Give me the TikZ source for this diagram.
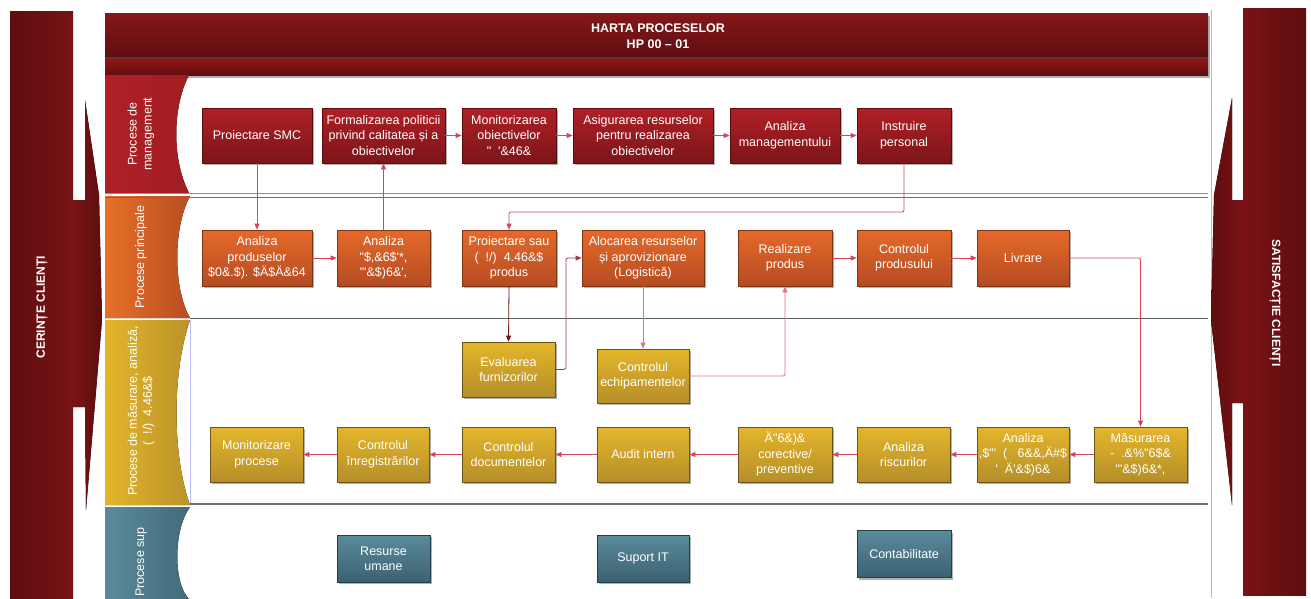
\documentclass[tikz,border=0pt]{standalone}
\usepackage{fontspec}
\newfontfamily\lsans{Liberation Sans}
\usetikzlibrary{arrows.meta,shadows,calc}
\definecolor{bann}{HTML}{7A1315}
\definecolor{bannD}{HTML}{5E0D0F}
\definecolor{hdrT}{HTML}{841719}
\definecolor{hdrB}{HTML}{600F11}
\definecolor{mgT}{HTML}{AF2026}
\definecolor{mgB}{HTML}{7C1519}
\definecolor{mgL}{HTML}{5A0B0E}
\definecolor{orT}{HTML}{E6692A}
\definecolor{orB}{HTML}{B44C22}
\definecolor{orL}{HTML}{7E3412}
\definecolor{yeT}{HTML}{E3B62B}
\definecolor{yeB}{HTML}{B68E29}
\definecolor{yeL}{HTML}{6B5319}
\definecolor{teT}{HTML}{5B8B9B}
\definecolor{teB}{HTML}{3B6171}
\definecolor{teL}{HTML}{223F4A}
\definecolor{lnk}{HTML}{D9435B}
\definecolor{lnkD}{HTML}{6E1212}
\definecolor{lnkP}{HTML}{E27385}
\definecolor{sepG}{HTML}{9C8A92}
\definecolor{sepR}{HTML}{C4455A}
\definecolor{sepN}{HTML}{56665A}
\definecolor{sepS}{HTML}{6A7272}
\begin{document}
\begin{tikzpicture}[x=1pt,y=-1pt,
  box/.style={draw, line width=0.8pt, minimum height=55pt, inner sep=1pt, align=center,
    text=white, font=\lsans\fontsize{12.5}{15.5}\selectfont,
    drop shadow={shadow xshift=2pt, shadow yshift=-2pt, opacity=0.3, fill=black}},
  mgmt/.style={box, draw=mgL, top color=mgT, bottom color=mgB},
  prin/.style={box, draw=orL, top color=orT, bottom color=orB},
  meas/.style={box, draw=yeL, top color=yeT, bottom color=yeB},
  supp/.style={box, draw=teL, top color=teT, bottom color=teB, minimum height=47pt},
  conn/.style={draw=lnk, line width=0.8pt, rounded corners=2pt, -{Triangle[length=6pt,width=5pt]}},
  lanelbl/.style={text=white, font=\lsans\fontsize{12.5}{15}\selectfont, align=center, rotate=90, inner sep=0pt},
  banlbl/.style={text=white, font=\lsans\bfseries\fontsize{12}{14}\selectfont, inner sep=0pt}
]
\useasboundingbox (0,0) rectangle (1311,598);
\fill[white] (0,0) rectangle (1311,598);
% panel border right
\draw[gray!55, line width=0.8pt] (1211.5,10) -- (1211.5,598);
% left banner
\fill[left color=bannD, right color=bann] (10,11) rectangle (73,598);
\fill[left color=bann, right color=bannD] (73,200) -- (85,200) -- (85,100) -- (99,195) -- (102,320) -- (86,510) -- (85,407) -- (73,407) -- cycle;
\node[banlbl, rotate=90] (lban) at (42,307) {CERINȚE CLIENȚI};
% right banner
\fill[left color=bann, right color=bannD] (1243,8) rectangle (1306,595);
\fill[left color=bannD, right color=bann] (1243,200) -- (1232,200) -- (1232,98) -- (1214,195) -- (1211,320) -- (1232,505) -- (1232,403) -- (1243,403) -- cycle;
\node[banlbl, rotate=-90] (rban) at (1275,303) {SATISFACȚIE CLIENȚI};
% header
\fill[gray!60] (107,16) rectangle (1210,78);
\fill[top color=hdrT, bottom color=hdrB] (105,13) rectangle (1208,57);
\fill[hdrB!70!gray] (105,57) rectangle (1208,59);
\fill[top color=hdrT!90!red, bottom color=hdrB] (105,59) rectangle (1208,75);
\node[banlbl, align=center, font=\lsans\bfseries\fontsize{12.5}{16}\selectfont] (title) at (658,36) {HARTA PROCESELOR\\HP 00 – 01};
% lane tabs
\fill[left color=mgT, right color=mgT!92!black] (105,75) -- (189,75) .. controls (172,108) and (172,160) .. (189,193) -- (105,193) -- cycle;
\fill[left color=orT!95!yellow, right color=orB!95!orT] (105,196) -- (190,196) .. controls (173,228) and (173,288) .. (190,318) -- (105,318) -- cycle;
\fill[left color=yeT, right color=yeB!90!yeT] (105,320) -- (190,320) .. controls (172,372) and (172,455) .. (190,505) -- (105,505) -- cycle;
\fill[left color=teT, right color=teB!80!teT] (105,507) -- (190,507) .. controls (173,530) and (173,585) .. (190,600) -- (105,600) -- cycle;
\node[lanelbl] (l1) at (141,134) {Procese de\\management};
\node[lanelbl] (l2) at (141,257) {Procese principale};
\node[lanelbl] (l3) at (141,411) {Procese de măsurare, analiză,\\(~~!/)~~4.46\&\$};
\node[lanelbl, anchor=west] (l4) at (141,597) {Procese sup};
% separators
\draw[sepG, line width=1.2pt] (105,193.5) -- (1208,193.5);
\draw[sepR, line width=0.6pt] (105,197) -- (1208,197);
\draw[sepN, line width=1.3pt] (190,318.5) -- (1208,318.5);
\draw[blue!25, line width=0.5pt] (190.5,320) -- (190.5,503);
\draw[sepS, line width=1.3pt] (190,504) -- (1208,504);
% management row
\node[mgmt, minimum width=110pt] (m1) at (257,135.5) {Proiectare SMC};
\node[mgmt, minimum width=123pt] (m2) at (383.5,135.5) {Formalizarea politicii\\privind calitatea și a\\obiectivelor};
\node[mgmt, minimum width=94pt] (m3) at (509,135.5) {Monitorizarea\\obiectivelor\\"~~'\&46\&};
\node[mgmt, minimum width=140pt] (m4) at (643,135.5) {Asigurarea resurselor\\pentru realizarea\\obiectivelor};
\node[mgmt, minimum width=110pt] (m5) at (785,135.5) {Analiza\\managementului};
\node[mgmt, minimum width=94pt] (m6) at (904,135.5) {Instruire\\personal};
% principal row
\node[prin, minimum width=110pt, minimum height=56pt] (p1) at (257,258) {Analiza\\produselor\\\$0\&.\$). \$Ä\$Ä\&64};
\node[prin, minimum width=93pt, minimum height=56pt] (p2) at (383.5,258) {Analiza\\"\$,\&6\$'*,\\"'\&\$)6\&',};
\node[prin, minimum width=94pt, minimum height=56pt] (p3) at (509,258) {Proiectare sau\\(~~!/)~~4.46\&\$\\produs};
\node[prin, minimum width=122pt, minimum height=56pt] (p4) at (643,258) {Alocarea resurselor\\și aprovizionare\\(Logistică)};
\node[prin, minimum width=94pt, minimum height=56pt] (p5) at (785,258) {Realizare\\produs};
\node[prin, minimum width=94pt, minimum height=56pt] (p6) at (904,258) {Controlul\\produsului};
\node[prin, minimum width=92pt, minimum height=56pt] (p7) at (1023,258) {Livrare};
% measurement rows
\node[meas, minimum width=93pt] (e1) at (508.5,369.5) {Evaluarea\\furnizorilor};
\node[meas, minimum width=92pt, minimum height=54pt] (e2) at (643,376) {Controlul\\echipamentelor};
\node[meas, minimum width=93pt] (b1) at (256.5,454.5) {Monitorizare\\procese};
\node[meas, minimum width=92pt] (b2) at (383,454.5) {Controlul\\înregistrărilor};
\node[meas, minimum width=93pt] (b3) at (508.5,454.5) {Controlul\\documentelor};
\node[meas, minimum width=92pt] (b4) at (643,454.5) {Audit intern};
\node[meas, minimum width=94pt] (b5) at (785,454.5) {Ä"6\&)\&\\corective/\\preventive};
\node[meas, minimum width=93pt] (b6) at (903.5,454.5) {Analiza\\riscurilor};
\node[meas, minimum width=92pt] (b7) at (1023,454.5) {Analiza\\,\$"'~~(~~~6\&\&,Ä\#\$\\'~~Ä'\&\$)6\&};
\node[meas, minimum width=93pt] (b8) at (1140.5,454.5) {Măsurarea\\-~~.\&\%"6\$\&\\"'\&\$)6\&*,};
% support row
\node[supp, minimum width=93pt] (s1) at (383.5,558.5) {Resurse\\umane};
\node[supp, minimum width=92pt] (s2) at (643,558.5) {Suport IT};
\node[supp, minimum width=94pt] (s3) at (904,554) {Contabilitate};
% connectors
\draw[conn] (m1.south) -- (p1.north);
\draw[conn] (p2.north) -- (m2.south);
\draw[conn] (m2.east) -- (m3.west);
\draw[conn] (m3.east) -- (m4.west);
\draw[conn] (m4.east) -- (m5.west);
\draw[conn] (m5.east) -- (m6.west);
\draw[conn] (m6.south) -- ++(0,48.5) -| (p3.north);
\draw[conn] (p1.east) -- (p2.west);
\draw[conn] (p5.east) -- (p6.west);
\draw[conn] (p6.east) -- (p7.west);
\draw[conn] (p7.east) -| (b8.north);
\draw[conn, draw=lnkD] (p3.south) -- (e1.north);
\draw[conn, draw=lnk!80!black] (e1.east) -- ++(10.5,0) |- (p4.west);
\draw[conn, draw=lnkP] (p4.south) -- (e2.north);
\draw[conn, draw=lnkP] (e2.east) -| (p5.south);
\draw[conn] (b8.west) -- (b7.east);
\draw[conn] (b7.west) -- (b6.east);
\draw[conn] (b6.west) -- (b5.east);
\draw[conn] (b5.west) -- (b4.east);
\draw[conn] (b4.west) -- (b3.east);
\draw[conn] (b3.west) -- (b2.east);
\draw[conn] (b2.west) -- (b1.east);
\end{tikzpicture}
\end{document}
